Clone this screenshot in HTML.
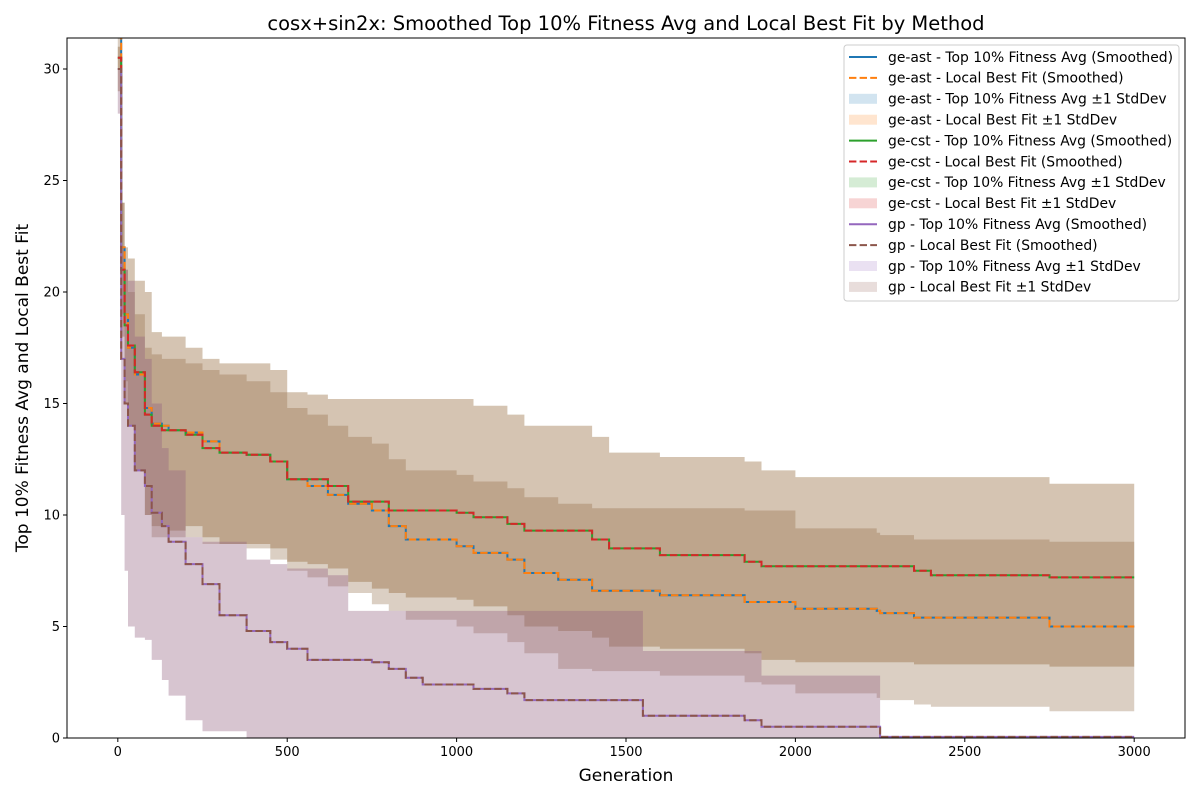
<!DOCTYPE html>
<html><head><meta charset="utf-8"><style>
body{margin:0;background:#fff;}
svg text{font-family:"DejaVu Sans","Liberation Sans",sans-serif;}
</style></head><body>
<svg id="chart" width="1200" height="800" xmlns="http://www.w3.org/2000/svg">
<rect width="1200" height="800" fill="#fff"/>
<text x="626" y="30" font-size="19.5" text-anchor="middle">cosx+sin2x: Smoothed Top 10% Fitness Avg and Local Best Fit by Method</text>
<g id="plot"></g>
</svg>
<script>
const gens=[0,10,20,30,50,80,100,130,150,200,250,300,380,450,500,560,620,680,750,800,850,900,1000,1050,1150,1200,1300,1400,1450,1550,1600,1850,1900,2000,2240,2250,2350,2400,2750,3000];
const astMean=[31.5,22,19,17.5,16.3,14.8,14.1,14.0,13.8,13.7,13.3,12.8,12.7,12.4,11.6,11.3,10.9,10.5,10.2,9.5,8.9,8.9,8.6,8.3,8.0,7.4,7.1,6.6,6.6,6.6,6.4,6.1,6.1,5.8,5.7,5.6,5.4,5.4,5.0,5.0];
const astUpper=[32,24,21,20,19,17.5,17.2,17,17,16.8,16.5,16.3,16,15.5,14.8,14.5,14,13.5,13.2,12.5,12,12,11.8,11.5,11.2,10.8,10.5,10.3,10.3,10.3,10.3,10.2,10.2,9.4,9.2,9.1,8.9,8.9,8.8,8.8];
const astLower=[30,19,16,14,12,10,9,9,9,9,8.7,8.7,8.5,8,7.5,7.2,6.8,6.5,6,5.7,5.3,5.3,5,4.7,4.3,3.8,3.1,3,3,3,2.8,2.5,2.4,2.0,1.8,1.7,1.5,1.4,1.2,1.2];
const cstMean=[30.5,21,18.5,17.6,16.4,14.5,14.0,13.8,13.8,13.6,13.0,12.8,12.7,12.4,11.6,11.6,11.3,10.6,10.6,10.2,10.2,10.2,10.1,9.9,9.6,9.3,9.3,8.9,8.5,8.5,8.2,7.9,7.7,7.7,7.7,7.7,7.5,7.3,7.2,7.2];
const cstUpper=[31,24,22,21.5,20.5,20,18.2,18,18,17.5,17,16.8,16.8,16.5,15.5,15.4,15.2,15.2,15.2,15.2,15.2,15.2,15.2,14.9,14.5,14,14,13.5,12.8,12.8,12.6,12.4,12.0,11.7,11.7,11.7,11.7,11.7,11.4,11.1];
const cstLower=[29,18,15,14,12,10,9.5,9.5,9.3,9.5,9,8.7,8.7,8.5,7.9,7.8,7.6,7,6.7,6.5,6.3,6.3,6.2,5.9,5.5,5,4.8,4.5,4.1,4.1,4,3.8,3.5,3.4,3.4,3.4,3.3,3.3,3.2,3.2];
const gpMean=[30,17,15,14,12,11.3,10.1,9.5,8.8,7.8,6.9,5.5,4.8,4.3,4.0,3.5,3.5,3.5,3.4,3.1,2.7,2.4,2.4,2.2,2.0,1.7,1.7,1.7,1.7,1.0,1.0,0.8,0.5,0.5,0.5,0.05,0.05,0.05,0.05,0.05];
const gpUpper=[30,22,21,20.5,18,17,15,13,12,9,8.8,8.8,8,7.8,7.6,7.6,7.3,5.7,5.7,5.7,5.7,5.7,5.7,5.7,5.7,5.7,5.7,5.7,5.7,3.9,3.9,3.9,2.8,2.8,2.8,0.05,0.05,0.05,0.05,0.05];
const gpLower=[28,10,7.5,5,4.5,4.4,3.5,2.6,1.9,0.8,0.3,0.3,0,0,0,0,0,0,0,0,0,0,0,0,0,0,0,0,0,0,0,0,0,0,0,0,0,0,0,0];
const xTicks=[0,500,1000,1500,2000,2500,3000];
const yTicks=[0,5,10,15,20,25,30];
const legendLabels=["ge-ast - Top 10% Fitness Avg (Smoothed)","ge-ast - Local Best Fit (Smoothed)","ge-ast - Top 10% Fitness Avg ±1 StdDev","ge-ast - Local Best Fit ±1 StdDev","ge-cst - Top 10% Fitness Avg (Smoothed)","ge-cst - Local Best Fit (Smoothed)","ge-cst - Top 10% Fitness Avg ±1 StdDev","ge-cst - Local Best Fit ±1 StdDev","gp - Top 10% Fitness Avg (Smoothed)","gp - Local Best Fit (Smoothed)","gp - Top 10% Fitness Avg ±1 StdDev","gp - Local Best Fit ±1 StdDev"];

const L=67,R=1185,T=38,B=738,xMin=-150,xMax=3150,yMin=0,yMax=31.39;
const X=v=>L+(v-xMin)/(xMax-xMin)*(R-L);
const Y=v=>B-(v-yMin)/(yMax-yMin)*(B-T);
const NS="http://www.w3.org/2000/svg";
const g=document.getElementById('plot');
function mk(tag,attrs,parent){const e=document.createElementNS(NS,tag);for(const k in attrs)e.setAttribute(k,attrs[k]);(parent||g).appendChild(e);return e;}
const defs=mk('defs',{});const cp=mk('clipPath',{id:'clip'},defs);mk('rect',{x:L,y:T,width:R-L,height:B-T},cp);
const data=mk('g',{'clip-path':'url(#clip)'});
function stepPts(arr){let p=[];for(let i=0;i<gens.length;i++){const x=X(gens[i]);if(i>0)p.push([x,Y(arr[i-1])]);p.push([x,Y(arr[i])]);}return p;}
function band(up,lo,color,name){const a=stepPts(up),b=stepPts(lo).reverse();const d='M'+a.concat(b).map(p=>p[0].toFixed(1)+','+p[1].toFixed(1)).join('L')+'Z';const e=mk('path',{d:d,fill:color,'fill-opacity':0.2,stroke:'none'},data);

}
function line(arr,color,dash,name){const d='M'+stepPts(arr).map(p=>p[0].toFixed(1)+','+p[1].toFixed(1)).join('L');const e=mk('path',{d:d,fill:'none',stroke:color,'stroke-width':2},data);if(dash)e.setAttribute('stroke-dasharray','7.4,3.2');

}
band(astUpper,astLower,'#1f77b4','ge-ast-top10-band');band(astUpper,astLower,'#ff7f0e','ge-ast-localbest-band');
band(cstUpper,cstLower,'#2ca02c','ge-cst-top10-band');band(cstUpper,cstLower,'#d62728','ge-cst-localbest-band');
band(gpUpper,gpLower,'#9467bd','gp-top10-band');band(gpUpper,gpLower,'#8c564b','gp-localbest-band');
line(astMean,'#1f77b4',false,'ge-ast-top10-line');line(astMean,'#ff7f0e',true,'ge-ast-localbest-line');
line(cstMean,'#2ca02c',false,'ge-cst-top10-line');line(cstMean,'#d62728',true,'ge-cst-localbest-line');
line(gpMean,'#9467bd',false,'gp-top10-line');line(gpMean,'#8c564b',true,'gp-localbest-line');
mk('rect',{x:L,y:T,width:R-L,height:B-T,fill:'none',stroke:'#000','stroke-width':1});
xTicks.forEach(t=>{const x=X(t);mk('line',{x1:x,x2:x,y1:B,y2:B+4,stroke:'#000'});const e=mk('text',{x:x,y:B+18,'font-size':13,'text-anchor':'middle'});e.textContent=t;

});
yTicks.forEach(t=>{const y=Y(t);mk('line',{x1:L-4,x2:L,y1:y,y2:y,stroke:'#000'});const e=mk('text',{x:L-7,y:y+4.5,'font-size':13,'text-anchor':'end'});e.textContent=t;

});
const xl=mk('text',{x:(L+R)/2,y:781,'font-size':17,'text-anchor':'middle'});xl.textContent='Generation';


const yl=mk('text',{x:0,y:0,'font-size':17,'text-anchor':'middle',transform:'translate(28,388) rotate(-90)'});yl.textContent='Top 10% Fitness Avg and Local Best Fit';


const lg=mk('g',{});


mk('rect',{x:844,y:45,width:335,height:256,rx:3,fill:'#fff','fill-opacity':0.8,stroke:'#ccc'},lg);
const lc=['#1f77b4','#ff7f0e','#1f77b4','#ff7f0e','#2ca02c','#d62728','#2ca02c','#d62728','#9467bd','#8c564b','#9467bd','#8c564b'];
legendLabels.forEach((s,i)=>{const y=57+i*20.9;const k=i%4;
if(k<2){const l=mk('line',{x1:849,x2:877,y1:y,y2:y,stroke:lc[i],'stroke-width':2},lg);if(k==1)l.setAttribute('stroke-dasharray','7.4,3.2');}
else mk('rect',{x:849,y:y-5,width:28,height:10,fill:lc[i],'fill-opacity':0.2},lg);
const e=mk('text',{x:888,y:y+4.8,'font-size':13.9},lg);e.textContent=s;

});
</script>
</body></html>
